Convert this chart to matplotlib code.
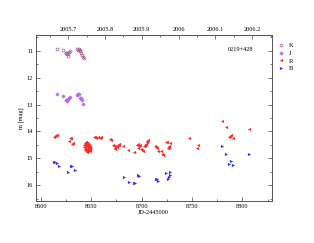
import numpy as np
import matplotlib
matplotlib.use("Agg")
from matplotlib import pyplot as plt
from matplotlib.ticker import MultipleLocator, FixedLocator

# photometry of 0219+428, JD-2445000 vs magnitude
k_jd = [8616.5, 8621.5, 8624.5, 8625.1, 8625.8, 8626.8, 8627.1, 8628.1, 8629.4,
        8636.0, 8637.0, 8638.0, 8638.7, 8639.3, 8640.3, 8641.3, 8642.3, 8643.0]
k_mag = [10.93, 10.98, 11.10, 11.07, 11.12, 11.20, 11.10, 11.05, 11.01,
         10.95, 10.98, 10.93, 10.98, 11.02, 11.10, 11.17, 11.25, 11.28]

j_jd = [8616.5, 8621.5, 8624.5, 8625.5, 8626.4, 8627.1, 8628.1, 8629.4,
        8636.0, 8637.0, 8638.0, 8639.0, 8640.0, 8641.0, 8642.0]
j_mag = [12.60, 12.70, 12.82, 12.84, 12.87, 12.79, 12.77, 12.72,
         12.65, 12.62, 12.60, 12.75, 12.77, 12.84, 12.97]

r_jd = [8612.6, 8614.0, 8615.2, 8616.0,
        8629.1, 8630.1, 8628.4, 8632.3, 8630.8,
        8643.0, 8643.5, 8644.0, 8644.5, 8645.0, 8645.5, 8646.0, 8646.5, 8647.0,
        8647.5, 8648.0, 8648.5, 8649.0, 8643.2, 8644.2, 8645.2, 8646.2, 8647.2,
        8648.2, 8649.2, 8643.8, 8644.8, 8645.8, 8646.8, 8647.8, 8648.8, 8645.0,
        8646.0, 8647.0, 8644.0, 8648.0,
        8653.0, 8654.0, 8655.0, 8656.5, 8659.0, 8660.0,
        8669.0, 8669.5,
        8671.5, 8672.5, 8673.5, 8674.0, 8675.0, 8676.5, 8677.5, 8678.0, 8675.5,
        8682.0, 8686.3, 8692.0,
        8695.5, 8696.5, 8697.0, 8698.0, 8696.0,
        8699.0, 8700.0, 8701.0,
        8702.0, 8703.0, 8704.0, 8705.0, 8705.5, 8706.0, 8704.5, 8703.5,
        8713.4, 8714.2, 8715.0,
        8716.7, 8719.0, 8720.5, 8721.6,
        8724.0, 8725.5,
        8726.0, 8727.0, 8727.5, 8726.6,
        8728.6,
        8747.4, 8754.8, 8756.3,
        8779.6, 8783.8, 8786.5, 8788.0, 8789.0, 8790.2, 8806.3]
r_mag = [14.19, 14.16, 14.15, 14.15,
         14.23, 14.25, 14.37, 14.42, 14.45,
         14.50, 14.45, 14.42, 14.40, 14.40, 14.42, 14.45, 14.48, 14.50,
         14.52, 14.55, 14.58, 14.60, 14.58, 14.55, 14.52, 14.55, 14.58,
         14.62, 14.65, 14.65, 14.62, 14.65, 14.68, 14.70, 14.72, 14.72,
         14.75, 14.73, 14.70, 14.68,
         14.20, 14.22, 14.24, 14.22, 14.25, 14.20,
         14.28, 14.33,
         14.50, 14.55, 14.60, 14.65, 14.55, 14.50, 14.48, 14.52, 14.58,
         14.55, 14.70, 14.78,
         14.52, 14.48, 14.55, 14.50, 14.60,
         14.65, 14.70, 14.73,
         14.55, 14.50, 14.45, 14.40, 14.35, 14.30, 14.48, 14.55,
         14.54, 14.58, 14.60,
         14.71, 14.72, 14.83, 14.87,
         14.41, 14.40,
         14.62, 14.58, 14.55, 14.60,
         14.42,
         14.23, 14.62, 14.50,
         13.61, 13.85, 14.22, 14.17, 14.12, 14.25, 13.91]

b_jd = [8612.6, 8614.3, 8616.0, 8618.2,
        8627.4, 8629.6, 8630.5, 8633.6,
        8682.3, 8687.0, 8692.3, 8693.0, 8696.5, 8697.0,
        8714.0, 8715.0, 8716.3,
        8724.0, 8726.0, 8727.0, 8728.0, 8728.6,
        8779.8, 8783.8, 8786.4, 8788.4, 8791.0, 8806.3]
b_mag = [15.12, 15.15, 15.17, 15.27,
         15.49, 15.27, 15.28, 15.43,
         15.70, 15.88, 15.90, 15.92, 15.63, 15.66,
         15.75, 15.78, 15.83,
         15.53, 15.75, 15.70, 15.62, 15.50,
         14.53, 14.85, 15.20, 15.10, 15.25, 14.83]

plt.rcParams['font.family'] = ['Liberation Serif', 'DejaVu Serif']

fig = plt.figure(figsize=(3.14, 2.43), dpi=100)
ax = fig.add_axes([0.114, 0.173, 0.751, 0.683])

ax.plot(k_jd, k_mag, 'o', ms=2.1, mfc='none', mec='#a05a90', mew=0.5, label='K')
ax.plot(j_jd, j_mag, 'D', ms=1.7, mfc='#c880f0', mec='#b050e8', mew=0.4, label='J')
ax.plot(r_jd, r_mag, '<', ms=2.3, color='#ff2a2a', mew=0, label='R')
ax.plot(b_jd, b_mag, '>', ms=2.3, color='#3030ff', mew=0, label='B')

ax.set_xlim(8595, 8829)
ax.set_ylim(16.58, 10.42)
ax.xaxis.set_major_locator(MultipleLocator(50))
ax.xaxis.set_minor_locator(MultipleLocator(25))
ax.yaxis.set_major_locator(MultipleLocator(1))
ax.yaxis.set_minor_locator(MultipleLocator(0.5))
ax.tick_params(which='both', direction='in', right=True, labelsize=4.5, width=0.5,
               color='#444444', pad=2)
ax.tick_params(which='major', length=3)
ax.tick_params(which='minor', length=1.5)
for s in ax.spines.values():
    s.set_linewidth(0.7)
    s.set_color('#555555')

def jd2yr(x):
    return 2005 + (np.asarray(x) - 8371.5) / 365.25

def yr2jd(y):
    return 8371.5 + (np.asarray(y) - 2005) * 365.25

top = ax.secondary_xaxis('top', functions=(jd2yr, yr2jd))
yr_ticks = [2005.7, 2005.8, 2005.9, 2006.0, 2006.1, 2006.2]
yr_labels = ['2005.7', '2005.8', '2005.9', '2006', '2006.1', '2006.2']
top.set_xticks(yr_ticks)
top.set_xticklabels(yr_labels)
top.xaxis.set_minor_locator(FixedLocator([2005.65, 2005.75, 2005.85, 2005.95,
                                          2006.05, 2006.15, 2006.25]))
top.tick_params(which='both', direction='in', labelsize=4.5, width=0.5,
                color='#444444', pad=2)
top.tick_params(which='major', length=3)
top.tick_params(which='minor', length=1.5)
top.spines['top'].set_linewidth(0.7)
top.spines['top'].set_color('#555555')

ax.set_xlabel('JD-2445000', fontsize=4.5, labelpad=1)
ax.set_ylabel('m [mag]', fontsize=4.5, labelpad=2)
ax.text(0.87, 0.91, '0219+428', transform=ax.transAxes, fontsize=4.5,
        ha='center', va='center')

ax.legend(loc='upper left', bbox_to_anchor=(1.01, 0.97), frameon=False,
          fontsize=4.8, handlelength=1.2, handletextpad=0.6, labelspacing=0.3,
          borderaxespad=0)

fig.savefig('out.png', dpi=100)
